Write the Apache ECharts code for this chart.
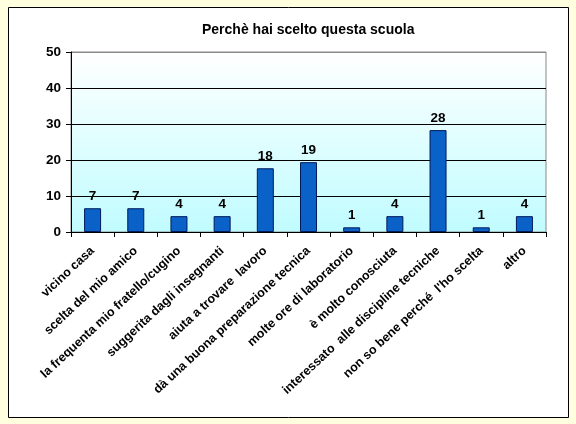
<!DOCTYPE html>
<html><head><meta charset="utf-8">
<script src="https://cdn.jsdelivr.net/npm/echarts@6/dist/echarts.min.js"></script>
<style>html,body{margin:0;padding:0;background:#FFFFDF;}#c{width:576px;height:424px;}</style>
</head><body><div id="c"></div>
<script>
var categories = ['vicino casa','scelta del mio amico','la frequenta mio fratello/cugino','suggerita dagli insegnanti','aiuta a trovare  lavoro','dà una buona preparazione tecnica','molte ore di laboratorio','è molto conosciuta','interessato  alle discipline tecniche','non so bene perché  l\'ho scelta','altro'];
var values = [6.6, 6.6, 4.4, 4.4, 17.7, 19.4, 1.3, 4.4, 28.3, 1.3, 4.4];
var yTicks = [0, 10, 20, 30, 40, 50];
var titleText = 'Perchè hai scelto questa scuola';

var chart = echarts.init(document.getElementById('c'));
chart.setOption({
  backgroundColor: '#FFFFDF',
  animation: false,
  graphic: [{type:'rect', z:-10, silent:true, shape:{x:8.5,y:7.5,width:560,height:410}, style:{fill:'#fff', stroke:'#000', lineWidth:1}}],
  title: {text: titleText, left: 197, top: 18, textStyle:{fontFamily:'Arial', fontWeight:'bold', fontSize:14, color:'#000'}},
  grid: {left: 71, top: 52, width: 475, height: 180, show: true, borderColor:'#888', borderWidth:1,
    backgroundColor: new echarts.graphic.LinearGradient(0,0,0,1,[{offset:0,color:'#FFFFFF'},{offset:1,color:'#C0FCFF'}])},
  xAxis: {type:'category', data: categories,
    axisLine:{lineStyle:{color:'#000', width:1}},
    axisTick:{show:true, length:5, lineStyle:{color:'#000'}},
    axisLabel:{rotate:43, interval:0, margin:17, fontFamily:'Arial', fontWeight:'bold', fontSize:12.5, color:'#000'}},
  yAxis: {type:'value', min: yTicks[0], max: yTicks[yTicks.length-1], interval: 10,
    axisLine:{show:true, lineStyle:{color:'#000'}},
    axisTick:{show:true, length:5, lineStyle:{color:'#000'}},
    axisLabel:{margin:10, fontFamily:'Arial', fontWeight:'bold', fontSize:13.5, color:'#000'},
    splitLine:{show:true, lineStyle:{color:['#000','#000','#000','#000','#000','#888'], width:1}}},
  series: [{type:'bar', data: values, barWidth: 17,
    itemStyle:{color:'#0A62C8', borderColor:'#001A5A', borderWidth:1},
    label:{show:true, position:'top', distance:5, fontFamily:'Arial', fontWeight:'bold', fontSize:13.5, color:'#000',
      formatter: function(p){return Math.round(p.value);}}}]
});
</script></body></html>
